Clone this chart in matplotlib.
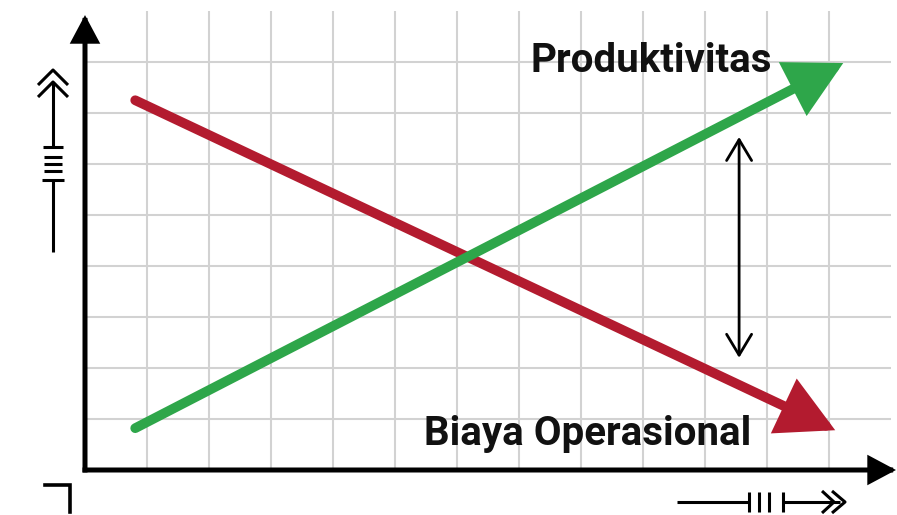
import matplotlib
matplotlib.use("Agg")
import matplotlib.pyplot as plt
from matplotlib.patches import FancyArrowPatch

# line data (grid units: x cell = 1, y cell = 1)
series_names = ["Biaya Operasional", "Produktivitas"]
series_colors = ["#b31b2f", "#2ea64a"]
series_x = [[0.81, 12.10], [0.81, 12.23]]
series_y = [[7.25, 0.78], [0.82, 7.98]]
label_pos = [(8.11, 0.49), (9.13, 7.80)]

grid_x = list(range(1, 13))
grid_y = list(range(1, 9))

gap_x = 10.55
gap_y = [2.20, 6.53]

fig = plt.figure(figsize=(8.97, 5.15), dpi=100)
ax = fig.add_axes([0, 0, 1, 1])
ax.set_xlim(-85 / 62, 812 / 62)
ax.set_ylim(-45 / 51, 470 / 51)
ax.axis("off")

# grid
ax.vlines(grid_x, 0, 9.0, color="#d2d2d2", lw=1.5, zorder=1)
ax.hlines(grid_y, 0, 13.0, color="#d2d2d2", lw=1.5, zorder=1)

# axes with arrows
for a, b in [((0, 0), (0, 8.92)), ((0, 0), (13.08, 0))]:
    p = FancyArrowPatch(a, b, arrowstyle="-|>,head_length=1.5,head_width=0.8",
                        mutation_scale=10, lw=3.6, color="black",
                        shrinkA=0, shrinkB=0, zorder=5)
    p.set_capstyle("projecting")
    p.set_joinstyle("miter")
    ax.add_patch(p)

# series arrows
for xs, ys, c, name, pos in zip(series_x, series_y, series_colors, series_names, label_pos):
    p = FancyArrowPatch((xs[0], ys[0]), (xs[1], ys[1]),
                        arrowstyle="-|>,head_length=3.0,head_width=1.6",
                        mutation_scale=10, lw=7, color=c,
                        shrinkA=0, shrinkB=0, zorder=4)
    p.set_joinstyle("miter")
    ax.add_patch(p)
    ax.text(pos[0], pos[1], name, ha="center", va="baseline", fontsize=29,
            fontweight="bold", family="Roboto", color="#111111", zorder=6)

# gap arrow
ax.add_patch(FancyArrowPatch((gap_x, gap_y[0]), (gap_x, gap_y[1]),
                             arrowstyle="<->,head_length=1.5,head_width=0.9",
                             mutation_scale=10, lw=2.0, color="black",
                             shrinkA=0, shrinkB=0, zorder=5))

# decorative axis symbols (pixel overlay)
ov = fig.add_axes([0, 0, 1, 1], facecolor="none")
ov.set_xlim(0, 897)
ov.set_ylim(515, 0)
ov.axis("off")
k = dict(color="black", lw=2.2, solid_capstyle="butt")
# left symbol
ov.plot([38, 53, 68], [85, 70, 85], **k)
ov.plot([38, 53, 68], [97, 82, 97], **k)
ov.plot([53, 53], [82, 147], **k)
ov.plot([53, 53], [180, 252], **k)
for yy, x0, x1 in [(147, 43, 63), (157, 44, 62), (164, 44, 62), (171, 44, 62), (180, 42, 64)]:
    ov.plot([x0, x1], [yy, yy], **k)
# bottom symbol
ov.plot([677, 748], [502, 502], **k)
ov.plot([783, 840], [502, 502], **k)
for xx in [749, 759, 769, 783]:
    ov.plot([xx, xx], [492, 512], **k)
ov.plot([822, 834, 822], [491, 502, 513], **k)
ov.plot([832, 845, 832], [491, 502, 513], **k)
# bottom-left corner
ov.plot([45, 70, 70], [485, 485, 512], color="black", lw=2.6, solid_joinstyle="miter")

fig.savefig("out.png", dpi=100, facecolor="white")
